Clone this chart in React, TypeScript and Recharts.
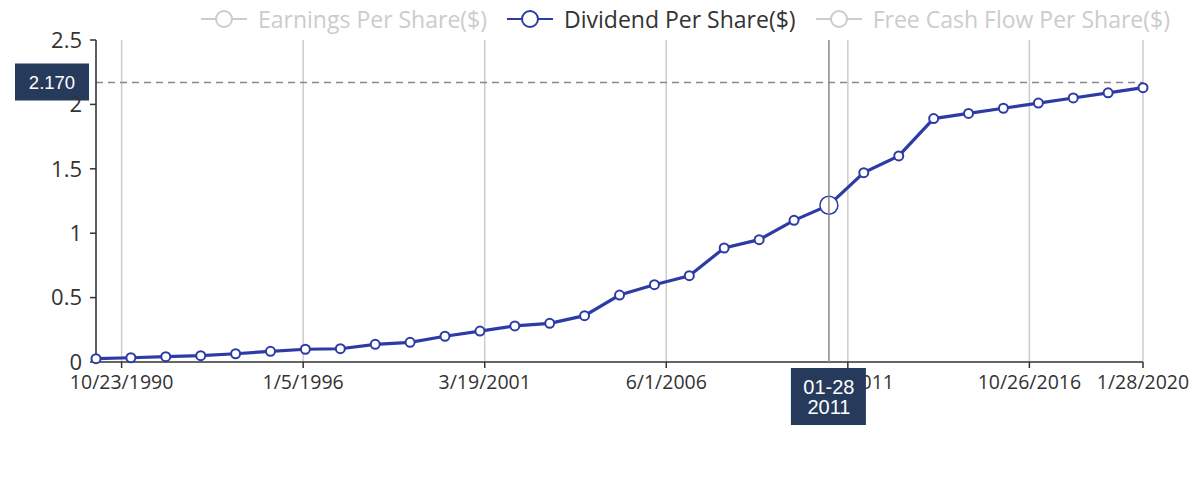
import React from "react";
import {
  CartesianGrid,
  Label,
  Legend,
  Line,
  LineChart,
  ReferenceLine,
  XAxis,
  YAxis,
} from "recharts";

const dates = [
  "1/28/1990", "1/28/1991", "1/28/1992", "1/28/1993", "1/28/1994", "1/28/1995",
  "1/28/1996", "1/28/1997", "1/28/1998", "1/28/1999", "1/28/2000", "1/28/2001",
  "1/28/2002", "1/28/2003", "1/28/2004", "1/28/2005", "1/28/2006", "1/28/2007",
  "1/28/2008", "1/28/2009", "1/28/2010", "1/28/2011", "1/28/2012", "1/28/2013",
  "1/28/2014", "1/28/2015", "1/28/2016", "1/28/2017", "1/28/2018", "1/28/2019",
  "1/28/2020",
];
const dividendPerShare = [
  0.026, 0.033, 0.041, 0.049, 0.064, 0.083, 0.099, 0.103, 0.137, 0.153, 0.2,
  0.24, 0.28, 0.3, 0.36, 0.52, 0.6, 0.67, 0.885, 0.95, 1.1, 1.217, 1.47, 1.6,
  1.89, 1.93, 1.97, 2.01, 2.05, 2.09, 2.13,
];
const xTickDates = [
  "10/23/1990", "1/5/1996", "3/19/2001", "6/1/2006", "8/14/2011", "10/26/2016", "1/28/2020",
];
const yTicks = [0, 0.5, 1, 1.5, 2, 2.5];
const seriesNames = ["Earnings Per Share($)", "Dividend Per Share($)", "Free Cash Flow Per Share($)"];
const activeSeries = "Dividend Per Share($)";
const pointerDate = "1/28/2011";
const pointerDateLabel = ["01-28", "2011"];
const pointerValue = 2.17;

const BLUE = "#2d3ca5";
const NAVY = "#263a5b";
const FONT = "'Open Sans', sans-serif";
const BOX_FONT = "'Liberation Sans', Arial, sans-serif";

const toTime = (s: string) => {
  const [m, d, y] = s.split("/").map(Number);
  return Date.UTC(y, m - 1, d);
};
const fmtDate = (t: number) => {
  const d = new Date(t);
  return `${d.getUTCMonth() + 1}/${d.getUTCDate()}/${d.getUTCFullYear()}`;
};

const data = dates.map((d, i) => ({ t: toTime(d), dps: dividendPerShare[i] }));
const xTicks = xTickDates.map(toTime);
const pointerIdx = dates.indexOf(pointerDate);

const renderLegend = () => (
  <div
    style={{
      display: "flex",
      justifyContent: "flex-end",
      paddingRight: 30,
      fontFamily: FONT,
      fontSize: 23,
      lineHeight: "28px",
    }}
  >
    {seriesNames.map((name, i) => {
      const active = name === activeSeries;
      const c = active ? BLUE : "#ccc";
      return (
        <div
          key={name}
          style={{ display: "flex", alignItems: "center", marginLeft: i ? 20 : 0 }}
        >
          <svg width={46} height={20} style={{ marginRight: 11 }}>
            <line x1={0} y1={10} x2={46} y2={10} stroke={c} strokeWidth={2} />
            <circle cx={23} cy={10} r={8} fill="#fff" stroke={c} strokeWidth={2} />
          </svg>
          <span style={{ color: active ? "#333" : "#ccc" }}>{name}</span>
        </div>
      );
    })}
  </div>
);

const renderDot = (props: any) => {
  const { cx, cy, index } = props;
  const big = index === pointerIdx;
  return (
    <circle
      key={`dot-${index}`}
      cx={cx}
      cy={cy}
      r={big ? 9 : 4.5}
      fill="#fff"
      stroke={BLUE}
      strokeWidth={big ? 1.5 : 2}
    />
  );
};

const ValueLabel = (props: any) => {
  const { viewBox } = props;
  const y = viewBox.y;
  return (
    <g>
      <rect x={15} y={y - 19} width={74} height={37} fill={NAVY} />
      <text
        x={52}
        y={y}
        fill="#fff"
        fontSize={18.5}
        fontFamily={BOX_FONT}
        textAnchor="middle"
        dominantBaseline="central"
      >
        {pointerValue.toFixed(3)}
      </text>
    </g>
  );
};

const DateLabel = (props: any) => {
  const { viewBox } = props;
  const cx = viewBox.x;
  const top = viewBox.y + viewBox.height + 6;
  return (
    <g>
      <rect x={cx - 38} y={top} width={75} height={57} fill={NAVY} />
      <text x={cx} y={top + 19} fill="#fff" fontSize={20} fontFamily={BOX_FONT}
        textAnchor="middle" dominantBaseline="central">
        {pointerDateLabel[0]}
      </text>
      <text x={cx} y={top + 39} fill="#fff" fontSize={20} fontFamily={BOX_FONT}
        textAnchor="middle" dominantBaseline="central">
        {pointerDateLabel[1]}
      </text>
    </g>
  );
};

export default function App() {
  return (
    <div style={{ margin: -8, width: 1200, height: 477, fontFamily: FONT }}>
      <LineChart
        width={1200}
        height={477}
        data={data}
        margin={{ top: 40, right: 57, left: 0, bottom: 85 }}
      >
        <CartesianGrid horizontal={false} stroke="#ccc" strokeWidth={1.5} />
        <Legend
          layout="horizontal"
          verticalAlign="middle"
          align="center"
          content={renderLegend}
          wrapperStyle={{ top: 5, left: 0, width: 1200 }}
        />
        <YAxis
          width={96}
          domain={[0, 2.5]}
          ticks={yTicks}
          tickSize={6}
          tickMargin={8}
          axisLine={{ stroke: "#333", strokeWidth: 1.5 }}
          tickLine={{ stroke: "#333", strokeWidth: 1.5 }}
          tick={{ fill: "#333", fontSize: 22, fontFamily: FONT }}
        />
        <XAxis
          dataKey="t"
          type="number"
          scale="time"
          height={30}
          domain={[data[0].t, data[data.length - 1].t]}
          ticks={xTicks}
          tickFormatter={fmtDate}
          interval={0}
          tickSize={6}
          tickMargin={7}
          axisLine={{ stroke: "#333", strokeWidth: 1.5 }}
          tickLine={{ stroke: "#333", strokeWidth: 1.5 }}
          tick={{ fill: "#333", fontSize: 19.5, fontFamily: FONT }}
        />
        <ReferenceLine
          y={pointerValue}
          stroke="#888"
          strokeWidth={1.5}
          strokeDasharray="7 5"
          label={<ValueLabel />}
        />
        <Line
          type="linear"
          dataKey="dps"
          name={activeSeries}
          stroke={BLUE}
          strokeWidth={3.2}
          dot={renderDot}
          isAnimationActive={false}
        />
        <ReferenceLine
          x={data[pointerIdx].t}
          stroke="#888"
          strokeWidth={1.5}
          zIndex={3000}
        >
          <Label content={<DateLabel />} zIndex={3000} />
        </ReferenceLine>
      </LineChart>
    </div>
  );
}
